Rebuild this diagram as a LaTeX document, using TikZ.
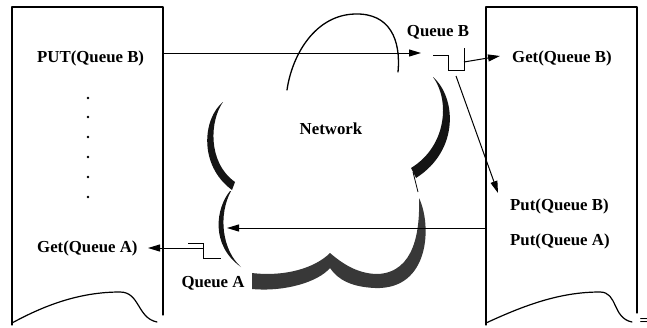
\documentclass[tikz,border=0pt]{standalone}
\usepackage{fontspec}
\setmainfont{Liberation Serif}
\usetikzlibrary{arrows.meta}
\begin{document}
\begin{tikzpicture}[x=1pt,y=-1pt,
  txt/.style={font=\fontsize{16.8}{20}\selectfont\bfseries, inner sep=0pt, anchor=base west},
  ctxt/.style={txt, anchor=base},
  page/.style={line width=1.2pt, line join=round, line cap=round},
  flow/.style={line width=1pt, -{Triangle[length=12pt,width=7pt]}},
  queue/.style={line width=1pt, line join=miter},
  lobe/.style={fill=black!92},
  graylobe/.style={fill=black!78},
  dot/.style={circle, fill=black, inner sep=0pt, minimum size=2.8pt}]
\useasboundingbox (0,0) rectangle (647,327);

% ---- sending program (left sheet)
\draw[page] (12,325) -- (12,7) -- (163,7) -- (163,315);
\draw[page] (12,323) .. controls (45,305) and (80,292) .. (120,292)
            .. controls (140,292) and (137,318) .. (157,322);

% ---- receiving program (right sheet)
\draw[page] (486,325) -- (486,7) -- (637,7) -- (637,313);
\draw[page] (486,323) .. controls (525,305) and (560,292) .. (600,292)
            .. controls (618,292) and (612,318) .. (632,322);
\node[font=\fontsize{15}{15}\selectfont\bfseries, inner sep=0pt, anchor=base] (eq) at (644,325) {=};

% ---- texts
\node[txt] (putB) at (37,62) {PUT(Queue B)};
\node[txt] (getA) at (37,252) {Get(Queue A)};
\node[txt] (getB) at (512,62) {Get(Queue B)};
\node[txt] (putB2) at (510,210) {Put(Queue B)};
\node[txt] (putA) at (510,245) {Put(Queue A)};
\node[ctxt] (qB) at (438,36) {Queue B};
\node[ctxt] (qA) at (213,287) {Queue A};
\node[ctxt] (net) at (331,134) {Network};

\foreach \i/\y in {1/98,2/117,3/137,4/157,5/177,6/197}
  \node[dot] (d\i) at (88,\y) {};

% ---- network cloud
% top lobe (thin outline)
\draw[line width=1.3pt, line cap=round] (287,90) .. controls (292,55) and (315,15) .. (355,14)
      .. controls (390,13) and (401,40) .. (398,72);
% upper left lobe
\fill[lobe] (223,102) .. controls (203,118) and (198,165) .. (232,190) -- (235,182)
      .. controls (207,162) and (210,120) .. (223,102) -- cycle;
% lower left lobe
\fill[lobe] (230,191) .. controls (216,208) and (210,245) .. (241,267)
      .. controls (222,250) and (218,215) .. (231,191) -- cycle;
% upper right lobe
\fill[lobe] (433,77) .. controls (456,97) and (460,150) .. (416,178) -- (411,168)
      .. controls (447,146) and (450,100) .. (433,77) -- cycle;
\draw[line width=0.8pt] (413,172) -- (418,192);
% lower right and bottom lobes
\fill[graylobe] (252,273) .. controls (285,277) and (315,268) .. (330,253)
      .. controls (345,266) and (360,274) .. (378,274)
      .. controls (415,272) and (420,230) .. (419,198)
      .. controls (432,225) and (430,290) .. (375,288)
      .. controls (352,287) and (338,280) .. (330,268)
      .. controls (318,282) and (285,292) .. (252,289) -- cycle;

% ---- queues and message flow
\coordinate (lOut) at (163,53);
\coordinate (qBin) at (421,53);
\coordinate (qBout) at (464,62);
\coordinate (qBdown) at (456,76);
\coordinate (rIn) at (500,56);
\coordinate (rPut) at (498,193);
\coordinate (rOut) at (486,228);
\coordinate (cloudIn) at (227,228);
\coordinate (qAout) at (203,248);
\coordinate (lIn) at (148,248);

\draw[flow] (lOut) -- (qBin);
\draw[queue] (433,55) -- (448,55) -- (448,70) -- (464,70) -- (464,48);
\draw[flow] (qBout) -- (rIn);
\draw[flow] (qBdown) -- (rPut);
\draw[flow] (rOut) -- (cloudIn);
\draw[queue] (188,243) -- (203,243) -- (203,258) -- (221,258);
\draw[flow] (qAout) -- (lIn);
\end{tikzpicture}
\end{document}
